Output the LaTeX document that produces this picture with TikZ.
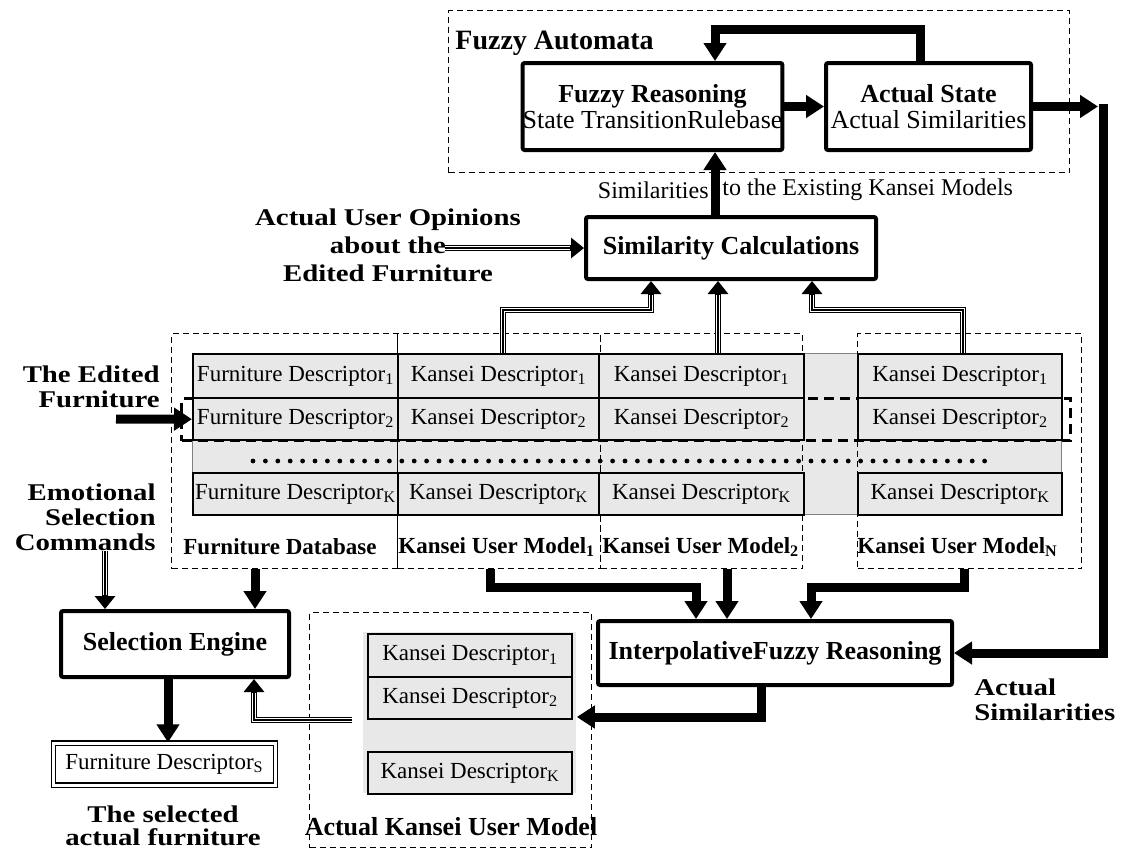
\documentclass[tikz,border=0pt]{standalone}
\usepackage{fontspec}
\setmainfont{Liberation Serif}
\newfontfamily\widefont[FakeStretch=1.2]{Liberation Serif}
\newcommand{\wideb}{\widefont\bfseries}
\usetikzlibrary{arrows.meta,positioning}

\begin{document}
\begin{tikzpicture}[
  x=0.5pt, y=-0.5pt,
  box/.style={draw, line width=2pt, rounded corners=1pt, align=center, inner sep=0pt, font=\fontsize{13}{13}\selectfont},
  grp/.style={draw, dash pattern=on 3pt off 2pt, line width=0.5pt, inner sep=0pt, anchor=north west},
  cell/.style={draw, line width=1.2pt, fill=gray!18, inner sep=0pt, anchor=north west, minimum height=21pt, font=\fontsize{11.5}{12}\selectfont},
  tblbg/.style={draw=gray, line width=0.4pt, fill=gray!18, inner sep=0pt, anchor=north west},
  hl/.style={draw, line width=1.5pt, dash pattern=on 5pt off 3pt, inner sep=0pt, anchor=north west},
  tlbl/.style={font=\bfseries\fontsize{11.5}{12}\selectfont, inner sep=0pt},
  side/.style={font=\wideb\fontsize{12}{12.5}\selectfont, inner sep=0pt},
  bigarrow/.style={line width=4.5pt, -{Triangle[length=9pt,width=11pt]}},
  dblarrow/.style={line width=3.4pt, -{Triangle[length=6.5pt,width=10pt]},
    postaction={draw=white, double=black, double distance=1pt, line width=0.55pt, -, shorten >=7pt}},
  dots/.style={line width=2.4pt, line cap=round, dash pattern=on 0pt off 6.2pt}
]
\useasboundingbox (0,0) rectangle (1127,852);

% fuzzy automata
\node[grp, minimum width=310.5pt, minimum height=81pt] (fa) at (448,10) {};
\node[anchor=west, inner sep=0pt, font=\bfseries\fontsize{14}{14}\selectfont] (falbl) at (455,43) {Fuzzy Automata};
\node[box, minimum width=128.5pt, minimum height=43.5pt] (fr) at (652.5,106.5) {\textbf{Fuzzy Reasoning}\\State TransitionRulebase};
\node[box, minimum width=102.5pt, minimum height=43.5pt] (as) at (928.5,106.5) {\textbf{Actual State}\\Actual Similarities};
\node[box, minimum width=145pt, minimum height=31pt] (sim) at (731,248) {\textbf{Similarity Calculations}};
\node[anchor=east, inner sep=0pt, font=\fontsize{12}{12}\selectfont] (simlbl) at (709,190) {Similarities};
\node[anchor=west, inner sep=0pt, font=\fontsize{12}{12}\selectfont] (simlbr) at (722,190) {to the Existing Kansei Models};
\node[side, align=center, font=\wideb\fontsize{12}{14}\selectfont] (opin) at (388,245) {Actual User Opinions\\about the\\Edited Furniture};

% table of descriptors
\node[tblbg, minimum width=434.5pt, minimum height=80.5pt] (tbl) at (192,353) {};
\node[hl, minimum width=444.5pt, minimum height=21pt] (row2) at (180,397) {};
\node[grp, minimum width=113pt, minimum height=117.5pt] (fdb) at (171,333) {};
\node[grp, minimum width=101.5pt, minimum height=117.5pt] (kag) at (397,333) {};
\node[grp, minimum width=101pt, minimum height=117.5pt] (kbg) at (600,333) {};
\node[grp, minimum width=112pt, minimum height=117.5pt] (kng) at (857,333) {};

\node[cell, minimum width=102.5pt, minimum height=22pt] (fd1) at (192,353) {Furniture Descriptor\textsubscript{1}};
\node[cell, minimum width=102.5pt] (fd2) at (192,397) {Furniture Descriptor\textsubscript{2}};
\node[cell, minimum width=102.5pt] (fdk) at (192,472) {Furniture Descriptor\textsubscript{K}};
\node[cell, minimum width=100.5pt, minimum height=22pt] (ka1) at (397,353) {Kansei Descriptor\textsubscript{1}};
\node[cell, minimum width=100.5pt] (ka2) at (397,397) {Kansei Descriptor\textsubscript{2}};
\node[cell, minimum width=100.5pt] (kak) at (397,472) {Kansei Descriptor\textsubscript{K}};
\node[cell, minimum width=102.5pt, minimum height=22pt] (kb1) at (598,353) {Kansei Descriptor\textsubscript{1}};
\node[cell, minimum width=102.5pt] (kb2) at (598,397) {Kansei Descriptor\textsubscript{2}};
\node[cell, minimum width=102.5pt] (kbk) at (598,472) {Kansei Descriptor\textsubscript{K}};
\node[cell, minimum width=102pt, minimum height=22pt] (kn1) at (857,353) {Kansei Descriptor\textsubscript{1}};
\node[cell, minimum width=102pt] (kn2) at (857,397) {Kansei Descriptor\textsubscript{2}};
\node[cell, minimum width=102pt] (knk) at (857,472) {Kansei Descriptor\textsubscript{K}};
\draw[dots] (253,461) -- (995,461);

\node[tlbl] (lfdb) at (280,547) {Furniture Database};
\node[tlbl, anchor=west] (lka) at (398,547) {Kansei User Model\textsubscript{1}};
\node[tlbl, anchor=west] (lkb) at (602,547) {Kansei User Model\textsubscript{2}};
\node[tlbl, anchor=west] (lkn) at (857,547) {Kansei User Model\textsubscript{N}};

% left side inputs
\node[side, align=right, anchor=east] (edited) at (160,387) {The Edited\\Furniture};
\coordinate (edin) at (116,419);
\node[side, align=right, anchor=east] (emo) at (156,517) {Emotional\\Selection\\Commands};

% lower part
\node[box, minimum width=114pt, minimum height=33pt] (se) at (175,644) {\textbf{Selection Engine}};
\node[draw, double, double distance=1.5pt, line width=0.7pt, minimum width=111pt, minimum height=21pt, inner sep=0pt, font=\fontsize{11.5}{12}\selectfont] (fds) at (164.5,764) {Furniture Descriptor\textsubscript{S}};
\node[side, align=center, font=\wideb\fontsize{12}{11.5}\selectfont] (selected) at (163,826) {The selected\\actual furniture};
\node[box, minimum width=177pt, minimum height=32pt] (interp) at (775,653) {\textbf{InterpolativeFuzzy Reasoning}};
\node[side, align=left, anchor=west] (actsim) at (974,700) {Actual\\Similarities};

\node[grp, minimum width=141pt, minimum height=117.5pt] (akg) at (309,612) {};
\node[tblbg, draw=none, minimum width=106.5pt, minimum height=80.5pt] (akbg) at (363,632) {};
\node[cell, minimum width=102pt, minimum height=21.5pt] (ak1) at (367,633) {Kansei Descriptor\textsubscript{1}};
\node[cell, minimum width=102pt] (ak2) at (367,676) {Kansei Descriptor\textsubscript{2}};
\node[cell, minimum width=102pt] (akk) at (367,751) {Kansei Descriptor\textsubscript{K}};
\node[font=\bfseries\fontsize{13}{13}\selectfont, inner sep=0pt] (lak) at (451,827) {Actual Kansei User Model};
\coordinate (akout) at (352,720);
\coordinate (bartop) at (1103,104);

% connectors
\draw[bigarrow] (fr.east) -- (as.west);
\draw[bigarrow] (920,0 |- as.north) -- (920,29) -| (715,0 |- fr.north);
\draw[bigarrow, shorten >=2.5pt] (as.east) -- (as.east -| bartop);
\draw[bigarrow] (bartop) |- (interp.east);
\draw[bigarrow] (715,0 |- sim.north) -- (715,0 |- fr.south);
\draw[dblarrow] (445,0 |- sim.west) -- (sim.west);
\draw[dblarrow] (503,0 |- ka1.north) |- (651,310) -- (651,0 |- sim.south);
\draw[dblarrow] (718,0 |- kb1.north) -- (718,0 |- sim.south);
\draw[dblarrow] (963,0 |- kn1.north) |- (812,310) -- (812,0 |- sim.south);
\draw[bigarrow] (edin) -- (fd2.west);
\draw[dblarrow] (105,0 |- emo.south) -- (105,0 |- se.north);
\draw[bigarrow] (255,0 |- fdb.south) -- (255,0 |- se.north);
\draw[bigarrow] (490,0 |- kag.south) |- (696,587) -- (696,0 |- interp.north);
\draw[bigarrow] (727,0 |- kbg.south) -- (727,0 |- interp.north);
\draw[bigarrow] (964,0 |- kng.south) |- (811,587) -- (811,0 |- interp.north);
\draw[bigarrow] (761,0 |- interp.south) |- (akbg.east |- 0,717);
\draw[dblarrow] (akout) -| (254,0 |- se.south);
\draw[bigarrow] (168,0 |- se.south) -- (168,0 |- fds.north);
\end{tikzpicture}
\end{document}
